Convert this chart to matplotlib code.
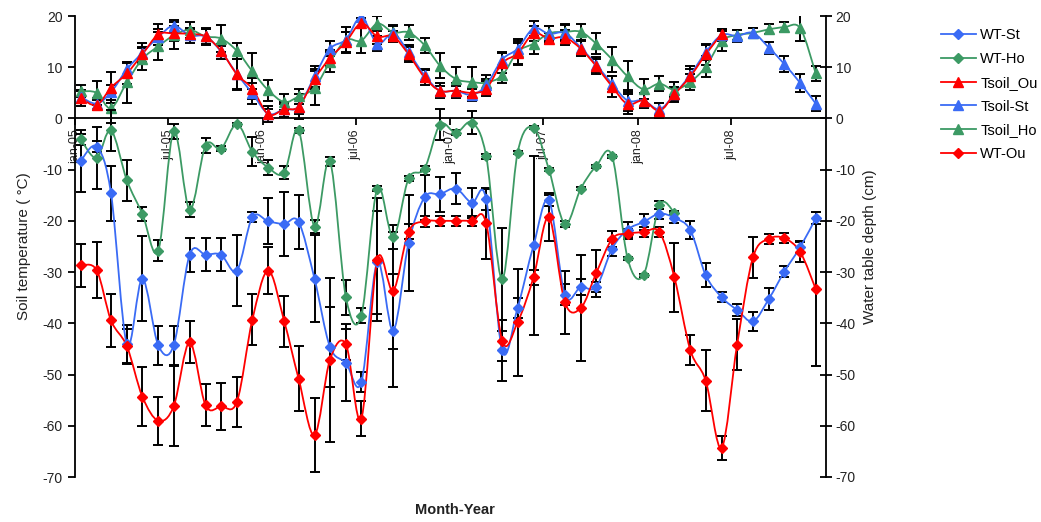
import numpy as np
import matplotlib
matplotlib.use("Agg")
import matplotlib.pyplot as plt
import matplotlib.dates as mdates
from matplotlib.path import Path
from matplotlib.patches import PathPatch
from matplotlib.lines import Line2D
from datetime import datetime

plt.rcParams['font.family'] = ['Liberation Sans', 'DejaVu Sans']
plt.rcParams['axes.unicode_minus'] = False

# ---------------- data ----------------
months = [datetime(2005 + m // 12, m % 12 + 1, 12) for m in range(48)]
tick_dates = [datetime(2005, 1, 1), datetime(2005, 7, 1), datetime(2006, 1, 1), datetime(2006, 7, 1),
              datetime(2007, 1, 1), datetime(2007, 7, 1), datetime(2008, 1, 1), datetime(2008, 7, 1)]
tick_labels = ["jan-05", "jul-05", "jan-06", "jul-06", "jan-07", "jul-07", "jan-08", "jul-08"]

wt_st = [-8.3, -5.5, -14.6, -44.1, -31.3, -44.3, -44.3, -26.6, -26.6, -26.6, -29.7, -19.3,
         -20.1, -20.6, -20.2, -31.3, -44.6, -47.7, -51.5, -28.1, -41.4, -24.3, -15.4, -14.8,
         -13.7, -16.5, -15.8, -45.3, -37.0, -24.8, -16.0, -34.4, -32.9, -32.9, -25.4, -21.7,
         -20.2, -18.6, -19.4, -21.8, -30.6, -34.9, -37.4, -39.6, -35.2, -29.9, -25.1, -19.5]
wt_st_err = [6, 1, 5.4, 3.7, 8.3, 3.8, 3.8, 3.3, 3.2, 3.2, 7, 1, 4.5, 6.2, 5.2, 8.5,
             7.8, 7.5, 2, 10, 11, 9.3, 4.4, 3.4, 3, 3, 2, 6, 2, 17.5, 1, 2,
             1.5, 1, 1.5, 1.5, 1.5, 1, 1, 1.8, 2.4, 1, 1.2, 1.8, 2.1, 1.1, 1.2, 1.2]

wt_ou = [-28.7, -29.6, -39.4, -44.5, -54.3, -59.0, -56.2, -43.7, -56.0, -56.2, -55.3, -39.3,
         -29.7, -39.6, -50.8, -61.8, -47.1, -44.1, -58.6, -27.6, -33.6, -22.1, -20.1, -20.0,
         -20.0, -20.0, -20.5, -43.4, -39.8, -31.0, -19.3, -35.9, -37.0, -30.2, -23.5, -22.5,
         -22.2, -22.2, -31.0, -45.2, -51.2, -64.3, -44.2, -27.1, -23.5, -23.4, -26.1, -33.3]
wt_ou_err = [4.2, 5.5, 5.2, 3.4, 5.8, 4.7, 7.8, 4.1, 4.1, 4.6, 4.9, 5.0, 4.6, 5.0, 6.4, 7.2,
             16, 3, 3.4, 12, 11.5, 1.5, 1, 1, 1, 1, 7, 4, 10.5, 1.5, 4.7, 6.2,
             10.4, 4.6, 1.5, 1, 1, 1, 6.7, 3, 6, 2.3, 5, 4, 1, 1, 2, 15]

wt_ho = [-4.1, -7.7, -2.3, -12.1, -18.6, -25.8, -2.5, -17.8, -5.3, -5.9, -1.1, -6.5,
         -9.6, -10.6, -2.3, -21.1, -8.4, -34.9, -38.5, -13.7, -23.2, -11.7, -9.8, -1.2,
         -2.8, -0.8, -7.4, -31.4, -6.7, -1.8, -10.0, -20.6, -13.7, -9.3, -7.4, -27.3,
         -30.6, -16.9, -18.4]
wt_ho_err = [1, 6, 4, 4, 1.4, 2, 1.5, 1.5, 1.4, 0.5, 0.3, 2.8, 1.5, 1.3, 0.5, 1.3,
             0.8, 3.4, 1.5, 0.5, 2.3, 0.5, 0.5, 3, 0.5, 2.2, 0.5, 10, 0.3, 0.3, 0.3, 0.5,
             0.3, 0.3, 0.3, 0.3, 0.3, 0.8, 0.3]

ts_st = [4.2, 2.9, 5.1, 9.6, 12.8, 15.9, 18.1, 16.2, 16.0, 13.1, 8.7, 4.9,
         0.9, 1.8, 2.3, 8.2, 13.6, 15.4, 19.8, 14.6, 16.6, 12.9, 8.4, 5.4,
         5.4, 4.6, 6.5, 11.5, 13.6, 17.6, 16.5, 16.7, 13.8, 10.5, 6.7, 3.5,
         3.5, 1.8, 4.7, 8.5, 12.9, 16.3, 16.1, 16.7, 13.8, 10.6, 6.9, 2.9]
ts_st_err = [1.2, 1.0, 1.5, 1.5, 2.0, 1.5, 1.2, 1.5, 1.5, 1.5, 3.0, 2.0, 1.5, 1.0, 1.5, 2.0,
             1.5, 1.5, 1.0, 1.5, 1.5, 1.5, 1.2, 1.5, 1.5, 1.2, 1.2, 1.5, 1.5, 1.5, 1.5, 1.5,
             1.5, 1.5, 1.5, 2.0, 1.5, 1.2, 1.2, 1.2, 1.5, 1.2, 1.2, 1.0, 1.2, 1.5, 1.8, 1.5]

ts_ou = [4.0, 2.6, 6.0, 8.8, 12.5, 16.4, 16.6, 16.5, 16.0, 13.2, 8.6, 5.8,
         0.8, 1.8, 2.3, 7.7, 11.8, 14.9, 18.6, 16.0, 16.0, 12.5, 8.0, 5.4,
         5.4, 5.0, 5.8, 10.8, 12.7, 16.6, 15.6, 15.8, 13.6, 10.2, 6.2, 2.8,
         3.5, 1.5, 4.7, 8.2, 12.5, 16.5]
ts_ou_err = [1.5, 1.0, 3.0, 2.0, 1.5, 2.0, 1.5, 1.0, 1.5, 1.0, 3.0, 2.0, 1.0, 1.5, 2.5, 2.0,
             1.5, 2.0, 1.0, 1.5, 1.0, 1.5, 1.5, 1.0, 1.0, 1.0, 1.5, 2.0, 2.0, 1.5, 1.0, 1.5,
             1.5, 1.5, 2.0, 2.0, 1.5, 1.5, 1.5, 2.0, 2.0, 1.0]

ts_ho = [5.3, 5.0, 2.0, 7.1, 11.6, 14.1, 16.2, 17.3, 16.0, 15.6, 13.2, 9.2,
         5.5, 3.2, 4.3, 6.0, 11.0, 15.3, 15.2, 18.5, 16.8, 16.8, 14.3, 10.3,
         7.7, 7.1, 7.0, 8.4, 13.0, 14.6, 16.6, 16.9, 16.9, 14.6, 11.5, 8.2,
         5.7, 6.8, 5.6, 7.1, 10.1, 15.1, 16.3, 16.7, 17.4, 17.8, 17.6, 8.8]
ts_ho_err = [1.2, 2.3, 2.8, 4.0, 2.2, 2.7, 2.7, 1.5, 1.6, 2.7, 1.5, 3.5, 2.0, 1.5, 1.5, 3.3,
             2.0, 2.5, 2.5, 1.5, 1.5, 1.5, 1.5, 2.5, 2.3, 3.0, 1.5, 1.5, 2.5, 2.0, 1.5, 1.5,
             1.5, 2.0, 2.5, 3.0, 2.0, 1.5, 1.5, 1.5, 2.0, 2.0, 1.0, 1.0, 1.0, 1.0, 2.5, 1.5]

BLUE = "#3A6BF5"
GREEN = "#3C9A64"
RED = "#FF0000"

# ---------------- figure ----------------
fig = plt.figure(figsize=(10.41, 5.22), dpi=100)
ax = fig.add_axes([75 / 1041, 45 / 522, 751 / 1041, 461 / 522])
ax2 = ax.twinx()

for a in (ax, ax2):
    a.set_ylim(-70, 20)
    a.set_xlim(datetime(2005, 1, 1), datetime(2009, 1, 1))
    a.patch.set_visible(False)

ax.set_axisbelow(True)


def smooth_path(xs, ys):
    pts = np.column_stack([xs, ys])
    n = len(pts)
    verts = [pts[0]]
    codes = [Path.MOVETO]
    for i in range(n - 1):
        p0 = pts[i - 1] if i > 0 else pts[i]
        p1 = pts[i]
        p2 = pts[i + 1]
        p3 = pts[i + 2] if i + 2 < n else pts[i + 1]
        c1 = p1 + (p2 - p0) / 6.0
        c2 = p2 - (p3 - p1) / 6.0
        verts += [c1, c2, p2]
        codes += [Path.CURVE4] * 3
    return Path(verts, codes)


def draw(a, vals, errs, color, marker, ms):
    xs = mdates.date2num(months[:len(vals)])
    a.errorbar(xs, vals, yerr=errs, fmt='none', ecolor='black', elinewidth=1.4,
               capsize=3.5, capthick=1.4, zorder=1.5)
    a.add_patch(PathPatch(smooth_path(xs, np.array(vals, float)), fill=False,
                          edgecolor=color, lw=1.3, zorder=2))
    a.plot(xs, vals, linestyle='none', marker=marker, ms=ms, color=color,
           markeredgecolor=color, zorder=3)


# soil temperature (left axis)
draw(ax, ts_ho, ts_ho_err, GREEN, '^', 7)
draw(ax, ts_st, ts_st_err, BLUE, '^', 7)
draw(ax, ts_ou, ts_ou_err, RED, '^', 7)
# water table (right axis)
draw(ax2, wt_ho, wt_ho_err, GREEN, 'D', 5.5)
draw(ax2, wt_st, wt_st_err, BLUE, 'D', 5.5)
draw(ax2, wt_ou, wt_ou_err, RED, 'D', 5.5)

# spines / ticks
ax.spines['top'].set_visible(False)
ax.spines['right'].set_visible(False)
ax.spines['bottom'].set_position(('data', 0))
for s in ('left', 'bottom'):
    ax.spines[s].set_linewidth(1.3)
for s in ('top', 'bottom', 'left'):
    ax2.spines[s].set_visible(False)
ax2.spines['right'].set_linewidth(1.3)

yt = list(range(-70, 21, 10))
ax.set_yticks(yt)
ax2.set_yticks(yt)
ax.tick_params(axis='y', direction='out', length=5, width=1.3, labelsize=10,
               labelcolor='#222222', pad=4)
ax2.tick_params(axis='y', direction='inout', length=8, width=1.3, labelsize=10,
                labelcolor='#222222', pad=3)

ax.set_xticks(mdates.date2num(tick_dates))
ax.set_xticklabels(tick_labels, rotation=90, fontsize=9, color='#222222')
ax.tick_params(axis='x', direction='out', length=5, width=1.3, pad=3)
ax2.tick_params(axis='x', bottom=False, labelbottom=False)

ax.set_ylabel("Soil temperature ( °C)", fontsize=11, color='#222222', labelpad=8)
ax2.set_ylabel("Water table depth (cm)", fontsize=11, color='#222222', labelpad=5)
fig.text(455 / 1041, 1 - 510 / 522, "Month-Year", ha='center', va='center',
         fontsize=10.5, fontweight='bold', color='#222222')

handles = [
    Line2D([], [], color=BLUE, marker='D', ms=5.5, lw=1.3),
    Line2D([], [], color=GREEN, marker='D', ms=5.5, lw=1.3),
    Line2D([], [], color=RED, marker='^', ms=7, lw=1.3),
    Line2D([], [], color=BLUE, marker='^', ms=7, lw=1.3),
    Line2D([], [], color=GREEN, marker='^', ms=7, lw=1.3),
    Line2D([], [], color=RED, marker='D', ms=5.5, lw=1.3),
]
labels = ["WT-St", "WT-Ho", "Tsoil_Ou", "Tsoil-St", "Tsoil_Ho", "WT-Ou"]
fig.legend(handles, labels, loc='upper left', bbox_to_anchor=(935 / 1041, 1 - 22 / 522),
           frameon=False, fontsize=10.5, handlelength=2.4, labelspacing=0.68,
           handletextpad=0.3, borderaxespad=0)

fig.savefig("out.png", dpi=100)
